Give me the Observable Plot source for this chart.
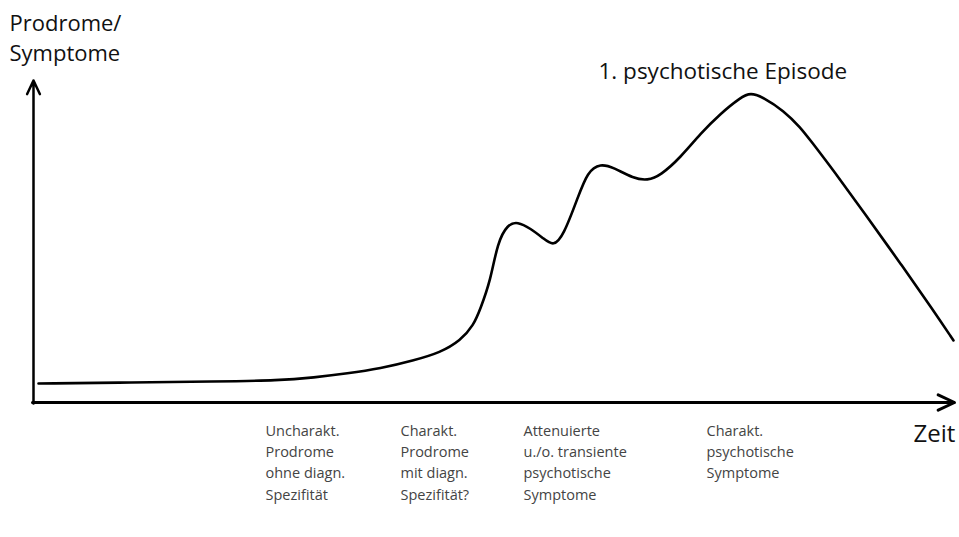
<!DOCTYPE html>
<html><head><meta charset="utf-8">
<script src="https://cdn.jsdelivr.net/npm/d3@7"></script>
<script src="https://cdn.jsdelivr.net/npm/@observablehq/plot@0.6"></script>
<style>body{margin:0;background:#fff}</style>
</head><body><div id="chart"></div>
<script>
// time (arbitrary units) and symptom level (arbitrary units)
const time = [5,100,180,247,280,314,347,380,407,427,440,447,457,464,474,484,497,510,520,530,544,554,567,580,600,614,627,647,667,687,707,717,730,750,767,777,800,834,867,900,920];
const level = [19,20,21,22,25,29,34,42,50,62,77,94,122,160,178,181,174,164,156,167,204,231,239,235,224,222,227,245,269,289,305,310,305,292,275,262,232,185,139,92,62];
const phaseX = [232,367,490,673];
const phaseLabels = [
  "Uncharakt.\nProdrome\nohne diagn.\nSpezifität",
  "Charakt.\nProdrome\nmit diagn.\nSpezifität?",
  "Attenuierte\nu./o. transiente\npsychotische\nSymptome",
  "Charakt.\npsychotische\nSymptome"
];
const yAxisLabel = "Prodrome/\nSymptome";
const xAxisLabel = "Zeit";
const peakLabel = "1. psychotische Episode";

const curve = time.map((t, i) => ({t, v: level[i]}));
const phases = phaseX.map((x, i) => ({x, label: phaseLabels[i]}));

const chart = Plot.plot({
  width: 959, height: 537,
  margin: 0,
  x: {domain: [0, 920], range: [33, 953], axis: null},
  y: {domain: [0, 320], range: [402, 82], axis: null},
  style: {fontFamily: "'Open Sans', sans-serif", background: "#fff"},
  marks: [
    Plot.arrow([{x1: -1, y1: 0, x2: 921, y2: 0}], {x1: "x1", y1: "y1", x2: "x2", y2: "y2", stroke: "#000", strokeWidth: 3, headLength: 9, headAngle: 50}),
    Plot.arrow([{x1: 0, y1: -1, x2: 0, y2: 322}], {x1: "x1", y1: "y1", x2: "x2", y2: "y2", stroke: "#000", strokeWidth: 2.5, headLength: 9, headAngle: 50}),
    Plot.line(curve, {x: "t", y: "v", curve: "basis", stroke: "#000", strokeWidth: 2.6}),
    Plot.text(phases, {x: "x", y: 0, text: "label", dy: 18, textAnchor: "start", lineAnchor: "top", fontSize: 14.5, lineHeight: 1.47, fill: "#444"}),
    Plot.text([xAxisLabel], {x: 880, y: 0, dy: 22, textAnchor: "start", lineAnchor: "top", fontSize: 24, fill: "#111"}),
    Plot.text([yAxisLabel], {x: 0, y: 322, dx: -24, dy: -71, textAnchor: "start", lineAnchor: "top", fontSize: 22, lineHeight: 1.38, fill: "#111"}),
    Plot.text([peakLabel], {x: 565, y: 309, dy: -15, textAnchor: "start", lineAnchor: "bottom", fontSize: 22.5, fill: "#111"})
  ]
});
document.getElementById("chart").appendChild(chart);
</script></body></html>
